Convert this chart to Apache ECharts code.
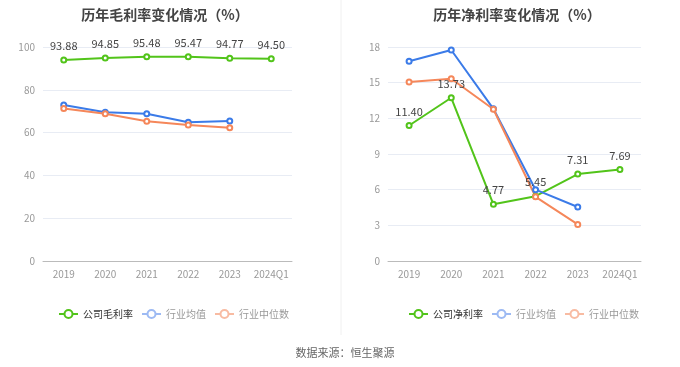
<!DOCTYPE html>
<html><head><meta charset="utf-8">
<script src="https://cdn.jsdelivr.net/npm/echarts@6/dist/echarts.min.js"></script>
<style>html,body{margin:0;padding:0;background:#fff}#c{width:680px;height:367px}</style>
</head><body><div id="c"></div>
<script>
const categories = ['2019','2020','2021','2022','2023','2024Q1'];
const grossCompany = [93.88, 94.85, 95.48, 95.47, 94.77, 94.50];
const grossIndustryAvg = [72.9, 69.5, 68.8, 64.8, 65.4];
const grossIndustryMedian = [71.3, 68.8, 65.3, 63.6, 62.3];
const netCompany = [11.40, 13.73, 4.77, 5.45, 7.31, 7.69];
const netIndustryAvg = [16.8, 17.75, 12.8, 6.0, 4.54];
const netIndustryMedian = [15.06, 15.33, 12.76, 5.4, 3.08];

const GREEN = '#52c41a', BLUE = '#3b7be8', ORANGE = '#f5875a';
const chart = echarts.init(document.getElementById('c'));
const font = '"Noto Sans CJK SC", "Noto Sans", sans-serif';

function xAxis(gi){ return {type:'category', gridIndex:gi, data:categories, boundaryGap:true,
  axisLine:{lineStyle:{color:'#bbb'}}, axisTick:{alignWithLabel:true, length:4, lineStyle:{color:'#bbb'}},
  axisLabel:{color:'#999', fontSize:10, margin:8, interval:0, fontFamily:font}}; }
function yAxis(gi, max, interval){ return {type:'value', gridIndex:gi, min:0, max:max, interval:interval,
  axisLine:{show:false}, axisTick:{show:false},
  axisLabel:{color:'#999', fontSize:10, margin:8, fontFamily:font},
  splitLine:{lineStyle:{color:'#e8ecf4'}}}; }
function line(name, data, color, gi, label){ return {type:'line', name:name, data:data, xAxisIndex:gi, yAxisIndex:gi,
  symbol:'emptyCircle', symbolSize:5, itemStyle:{color:color}, lineStyle:{color:color, width:2},
  label:{show:label, position:'top', color:'#444', fontSize:11, fontFamily:font, formatter:p=>p.value.toFixed(2)}}; }
function legend(left, names){ return {left:left, top:304, itemWidth:19, itemHeight:10, itemGap:8, width:300,
  textStyle:{fontSize:10, fontFamily:font},
  data:[{name:names[0], textStyle:{color:'#333'}},
        {name:names[1], textStyle:{color:'#999'}, itemStyle:{color:'#9dbaf3'}, lineStyle:{color:'#9dbaf3'}},
        {name:names[2], textStyle:{color:'#999'}, itemStyle:{color:'#f8bba2'}, lineStyle:{color:'#f8bba2'}}]}; }

chart.setOption({
  animation:false,
  title:[
    {text:'历年毛利率变化情况（%）', left:160, textAlign:'center', top:3, textStyle:{fontSize:14, fontWeight:'bold', color:'#444', fontFamily:font}},
    {text:'历年净利率变化情况（%）', left:512, textAlign:'center', top:3, textStyle:{fontSize:14, fontWeight:'bold', color:'#444', fontFamily:font}},
    {text:'数据来源：恒生聚源', left:340, textAlign:'center', top:342, textStyle:{fontSize:11, fontWeight:'normal', color:'#666', fontFamily:font}}
  ],
  grid:[{left:43, right:388, top:47, bottom:106}, {left:388, right:39, top:47, bottom:106}],
  xAxis:[xAxis(0), xAxis(1)],
  yAxis:[yAxis(0, 100, 20), yAxis(1, 18, 3)],
  legend:[legend(53, ['公司毛利率','行业均值','行业中位数']), legend(403, ['公司净利率','行业均值','行业中位数'])],
  graphic:[{type:'line', shape:{x1:341, y1:0, x2:341, y2:335}, style:{stroke:'#f0f0f0', lineWidth:1}}],
  series:[
    line('公司毛利率', grossCompany, GREEN, 0, true),
    line('行业均值', grossIndustryAvg, BLUE, 0, false),
    line('行业中位数', grossIndustryMedian, ORANGE, 0, false),
    line('公司净利率', netCompany, GREEN, 1, true),
    line('行业均值', netIndustryAvg, BLUE, 1, false),
    line('行业中位数', netIndustryMedian, ORANGE, 1, false)
  ]
});
</script></body></html>
